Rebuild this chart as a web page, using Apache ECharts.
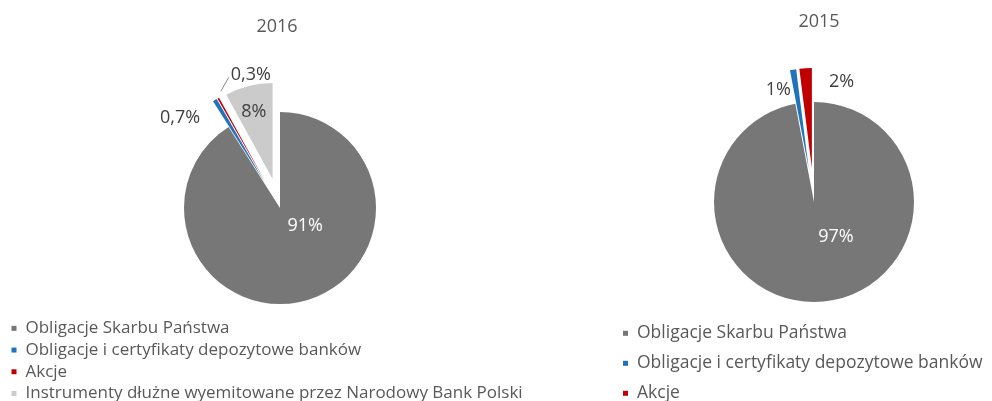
<!DOCTYPE html>
<html>
<head>
<meta charset="utf-8">
<script src="https://cdn.jsdelivr.net/npm/echarts@6/dist/echarts.min.js"></script>
<style>
  html, body { margin: 0; padding: 0; background: #fff; }
  #chart { width: 992px; height: 401px; }
</style>
</head>
<body>
<div id="chart"></div>
<script>
// Portfolio structure by asset type, 2016 vs 2015 (share in %)
const categories2016 = [
  'Obligacje Skarbu Państwa',
  'Obligacje i certyfikaty depozytowe banków',
  'Akcje',
  'Instrumenty dłużne wyemitowane przez Narodowy Bank Polski'
];
const values2016 = [91, 0.7, 0.3, 8];

const categories2015 = [
  'Obligacje Skarbu Państwa',
  'Obligacje i certyfikaty depozytowe banków',
  'Akcje'
];
const values2015 = [97, 1, 2];

const years = ['2016', '2015'];

const colorMap = {
  'Obligacje Skarbu Państwa': '#777777',
  'Obligacje i certyfikaty depozytowe banków': '#2172bd',
  'Akcje': '#c00000',
  'Instrumenty dłużne wyemitowane przez Narodowy Bank Polski': '#cbcbcb'
};

const FONT = '"Open Sans", "Noto Sans", sans-serif';
const TEXT = '#595959';

function fmt(v) {
  return v < 1 ? v.toFixed(1).replace('.', ',') + '%' : v + '%';
}

// label nudges (dx, dy) from the default label anchor of each slice
const nudge2016 = [[11, -31], [-58, -21], [75, -10], [-6, -18]];
const nudge2015 = [[17, -18], [-22, -26], [33, -33]];

function buildData(cats, vals, outsideIdx) {
  return cats.map((name, i) => ({
    name: name,
    value: vals[i],
    selected: i > 0,
    itemStyle: { color: colorMap[name] },
    label: {
      position: i === outsideIdx ? 'outside' : 'inside',
      color: i === 0 ? '#ffffff' : '#404040'
    },
    labelLine: { show: i === outsideIdx, length: 15, length2: 10,
                 lineStyle: { color: '#8c8c8c', width: 1 } }
  }));
}

function pieSeries(name, cats, vals, center, radius, offset, nudges, outsideIdx) {
  return {
    type: 'pie',
    name: name,
    center: center,
    radius: radius,
    startAngle: 90,
    clockwise: true,
    selectedMode: 'multiple',
    selectedOffset: offset,
    avoidLabelOverlap: false,
    animation: false,
    emphasis: { disabled: true },
    select: { itemStyle: { borderWidth: 0 } },
    itemStyle: { borderWidth: 0 },
    label: {
      show: true,
      fontFamily: FONT,
      fontSize: 18,
      formatter: p => fmt(p.value)
    },
    labelLayout: p => {
      const d = nudges[p.dataIndex];
      const out = { dx: d[0], dy: d[1] };
      if (p.dataIndex === outsideIdx) {
        // short leader from the slice tip up to the lower-left of the moved label
        const lx = p.labelRect.x + d[0];
        const ly = p.labelRect.y + d[1] + p.labelRect.height * 0.62;
        out.labelLinePoints = [[lx - 10, ly + 14], [lx - 2, ly], [lx - 2, ly]];
      }
      return out;
    },
    data: buildData(cats, vals, outsideIdx)
  };
}

const chart = echarts.init(document.getElementById('chart'), null, { renderer: 'canvas' });

chart.setOption({
  backgroundColor: '#ffffff',
  animation: false,
  title: [
    { text: years[0], left: 272, top: 13, textAlign: 'center',
      textStyle: { fontFamily: FONT, fontSize: 18, fontWeight: 'normal', color: TEXT } },
    { text: years[1], left: 814, top: 8, textAlign: 'center',
      textStyle: { fontFamily: FONT, fontSize: 18, fontWeight: 'normal', color: TEXT } }
  ],
  legend: [
    {
      orient: 'vertical', left: 11.5, top: 317.5, height: 120, padding: 0,
      data: categories2016, icon: 'rect', itemWidth: 5, itemHeight: 5,
      itemGap: 0, selectedMode: false,
      textStyle: { fontFamily: FONT, fontSize: 17, color: TEXT, lineHeight: 21.7, padding: [0, 0, 0, 4] }
    },
    {
      orient: 'vertical', left: 623, top: 318.3, height: 120, padding: 0,
      data: categories2015, icon: 'rect', itemWidth: 5, itemHeight: 5,
      itemGap: 0, selectedMode: false,
      textStyle: { fontFamily: FONT, fontSize: 17.5, color: TEXT, lineHeight: 30, padding: [0, 0, 0, 4] }
    }
  ],
  series: [
    pieSeries(years[0], categories2016, values2016, [280, 208], 96, 30, nudge2016, 2),
    pieSeries(years[1], categories2015, values2015, [814, 202], 100, 34, nudge2015, -1)
  ]
});
</script>
</body>
</html>
